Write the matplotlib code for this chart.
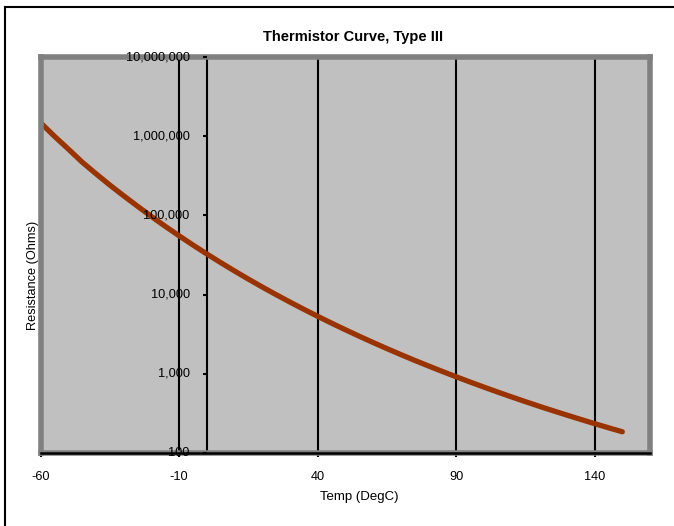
import matplotlib
matplotlib.use("Agg")
import matplotlib.pyplot as plt
from matplotlib.lines import Line2D
from matplotlib.transforms import offset_copy

plt.rcParams['font.family'] = ['Liberation Sans', 'DejaVu Sans']

temps = [-60, -55, -50, -45, -40, -35, -30, -25, -20, -15, -10, -5, 0, 5, 10, 15, 20,
         25, 30, 35, 40, 45, 50, 55, 60, 65, 70, 75, 80, 85, 90, 95, 100, 105, 110,
         115, 120, 125, 130, 135, 140, 145, 150]
resistance = [1480000, 1000000, 690000, 472000, 336000, 242000, 177000, 130700, 97070,
              72900, 55330, 42320, 32650, 25390, 19900, 15710, 12490, 10000, 8057,
              6532, 5327, 4369, 3603, 2986, 2488, 2083, 1752, 1480, 1258, 1072, 917.7,
              788.5, 680.0, 588.6, 511.2, 445.4, 389.3, 341.7, 300.9, 265.4, 234.8,
              208.3, 185.3]
x_ticks = [-60, -10, 40, 90, 140]
y_ticks = [100, 1000, 10000, 100000, 1000000, 10000000]

W, H = 674, 526
fig = plt.figure(figsize=(W / 100, H / 100), dpi=100)
fig.patch.set_facecolor('white')

# outer chart border (left and top visible)
fig.add_artist(Line2D([5 / W, 5 / W], [0, 1 - 7 / H], transform=fig.transFigure,
                      color='black', lw=1.5))
fig.add_artist(Line2D([5 / W, 1], [1 - 7 / H, 1 - 7 / H], transform=fig.transFigure,
                      color='black', lw=1.5))

left, right, top, bottom = 40.5, 650, 57, 453
ax = fig.add_axes([left / W, 1 - bottom / H, (right - left) / W, (bottom - top) / H])
ax.set_facecolor('#C0C0C0')
ax.set_xlim(-60, 160)
ax.set_yscale('log')
ax.set_ylim(100, 10000000)

for s in ax.spines.values():
    s.set_color('#808080')
    s.set_linewidth(4)

# vertical gridlines
for t in x_ticks[1:]:
    ax.axvline(t, color='black', lw=1.5, zorder=1)

# y axis at x = 0 with tick marks pointing left and labels
ax.axvline(0, color='black', lw=1.5, zorder=1)
label_trans = offset_copy(ax.transData, fig=fig, x=-17, y=0, units='dots')
for yv in y_ticks:
    ax.plot([0], [yv], marker=0, markersize=3, color='black', mew=1.5, clip_on=False,
            zorder=3)
    ax.text(0, yv, f"{yv:,}", transform=label_trans, ha='right', va='center',
            fontsize=9.2, color='black', zorder=4, clip_on=False)

# x axis line at bottom
ax.axhline(100, color='black', lw=1.8, zorder=3, clip_on=False)

ax.plot(temps, resistance, color='#993300', lw=3.8, solid_capstyle='round',
        solid_joinstyle='round', zorder=2)

ax.set_yticks([])
ax.minorticks_off()
ax.set_xticks(x_ticks)
ax.set_xticklabels([str(t) for t in x_ticks], fontsize=9.2)
ax.tick_params(axis='x', direction='inout', length=6, width=1.5, color='black', pad=10)

fig.text(353 / W, 1 - 37 / H, 'Thermistor Curve, Type III', ha='center', va='center',
         fontsize=10.5, fontweight='bold')
fig.text(359 / W, 1 - 497 / H, 'Temp (DegC)', ha='center', va='center', fontsize=9.5)
fig.text(33 / W, 1 - 275 / H, 'Resistance (Ohms)', ha='center', va='center',
         fontsize=9.2, rotation=90)

fig.savefig('out.png', dpi=100)
